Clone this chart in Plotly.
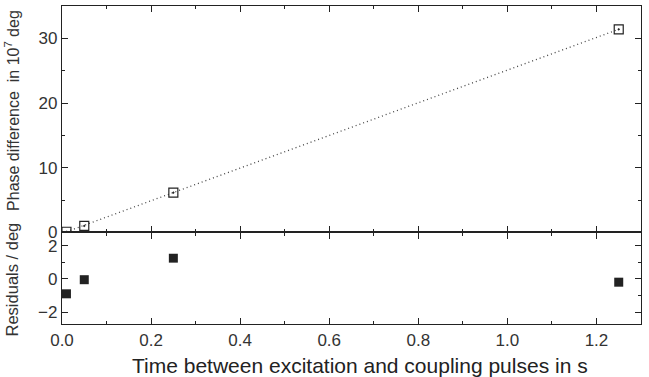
import plotly.graph_objects as go

# data
time_s = [0.01, 0.05, 0.25, 1.25]
phase_diff = [0.1, 1.0, 6.15, 31.4]         # in 10^7 deg
residuals = [-0.9, -0.05, 1.25, -0.2]       # deg
fit_x = [0.01, 1.25]
fit_y = [0.1, 31.4]

x_ticks = [0.0, 0.2, 0.4, 0.6, 0.8, 1.0, 1.2]
x_tick_labels = ["0.0", "0.2", "0.4", "0.6", "0.8", "1.0", "1.2"]
top_y_ticks = [0, 10, 20, 30]
res_y_ticks = [-2, 0, 2]

FONT = "Liberation Sans, Arial, sans-serif"
INK = "#222222"

fig = go.Figure()
fig.add_trace(go.Scatter(x=fit_x, y=fit_y, mode="lines",
                         line=dict(color="#444444", width=1.3, dash="1px,3px"),
                         xaxis="x", yaxis="y", showlegend=False))
fig.add_trace(go.Scatter(x=time_s, y=phase_diff, mode="markers",
                         marker=dict(symbol="square-open-dot", size=9,
                                     color=INK, line=dict(width=1.2, color=INK)),
                         xaxis="x", yaxis="y", showlegend=False, cliponaxis=True))
fig.add_trace(go.Scatter(x=time_s, y=residuals, mode="markers",
                         marker=dict(symbol="square", size=9, color=INK),
                         xaxis="x2", yaxis="y2", showlegend=False))

axis_common = dict(showline=True, linecolor=INK, linewidth=1.3, mirror="ticks",
                   ticks="inside", tickcolor=INK, tickwidth=1, ticklen=6,
                   showgrid=False, zeroline=False,
                   tickfont=dict(family=FONT, size=17, color="#333333"))

split = 0.288
fig.update_layout(
    width=649, height=377,
    margin=dict(l=62, r=8, t=6, b=53),
    paper_bgcolor="white", plot_bgcolor="white",
    xaxis=dict(domain=[0, 1], anchor="y", range=[0, 1.3], tickvals=x_ticks,
               showticklabels=False,
               minor=dict(dtick=0.1, tick0=0, ticks="inside", ticklen=3, tickcolor=INK),
               **axis_common),
    yaxis=dict(domain=[split, 1], anchor="x", range=[0, 35], tickvals=top_y_ticks,
               minor=dict(dtick=5, tick0=0, ticks="inside", ticklen=3, tickcolor=INK),
               **axis_common),
    xaxis2=dict(domain=[0, 1], anchor="y2", range=[0, 1.3], tickvals=x_ticks,
                ticktext=x_tick_labels,
                minor=dict(dtick=0.1, tick0=0, ticks="inside", ticklen=3, tickcolor=INK),
                **axis_common),
    yaxis2=dict(domain=[0, split], anchor="x2", range=[-2.72, 2.8], tickvals=res_y_ticks,
                minor=dict(dtick=1, tick0=0, ticks="inside", ticklen=3, tickcolor=INK),
                **axis_common),
    annotations=[
        dict(text="Time between excitation and coupling pulses in s",
             xref="paper", yref="paper", x=0.5, xshift=8, y=0, yshift=-28,
             xanchor="center", yanchor="top", showarrow=False,
             font=dict(family=FONT, size=21, color=INK)),
        dict(text="Phase difference  in 10<sup>7</sup> deg",
             xref="paper", yref="paper", x=0, xshift=-50, y=0.67,
             xanchor="center", yanchor="middle", textangle=-90, showarrow=False,
             font=dict(family=FONT, size=16, color="#333333")),
        dict(text="Residuals / deg",
             xref="paper", yref="paper", x=0, xshift=-50, y=0.14,
             xanchor="center", yanchor="middle", textangle=-90, showarrow=False,
             font=dict(family=FONT, size=16.5, color="#333333")),
    ],
)

fig.write_html("out.html", config={"displayModeBar": False},
               post_script="document.body.style.margin='0';document.body.style.padding='0';")
